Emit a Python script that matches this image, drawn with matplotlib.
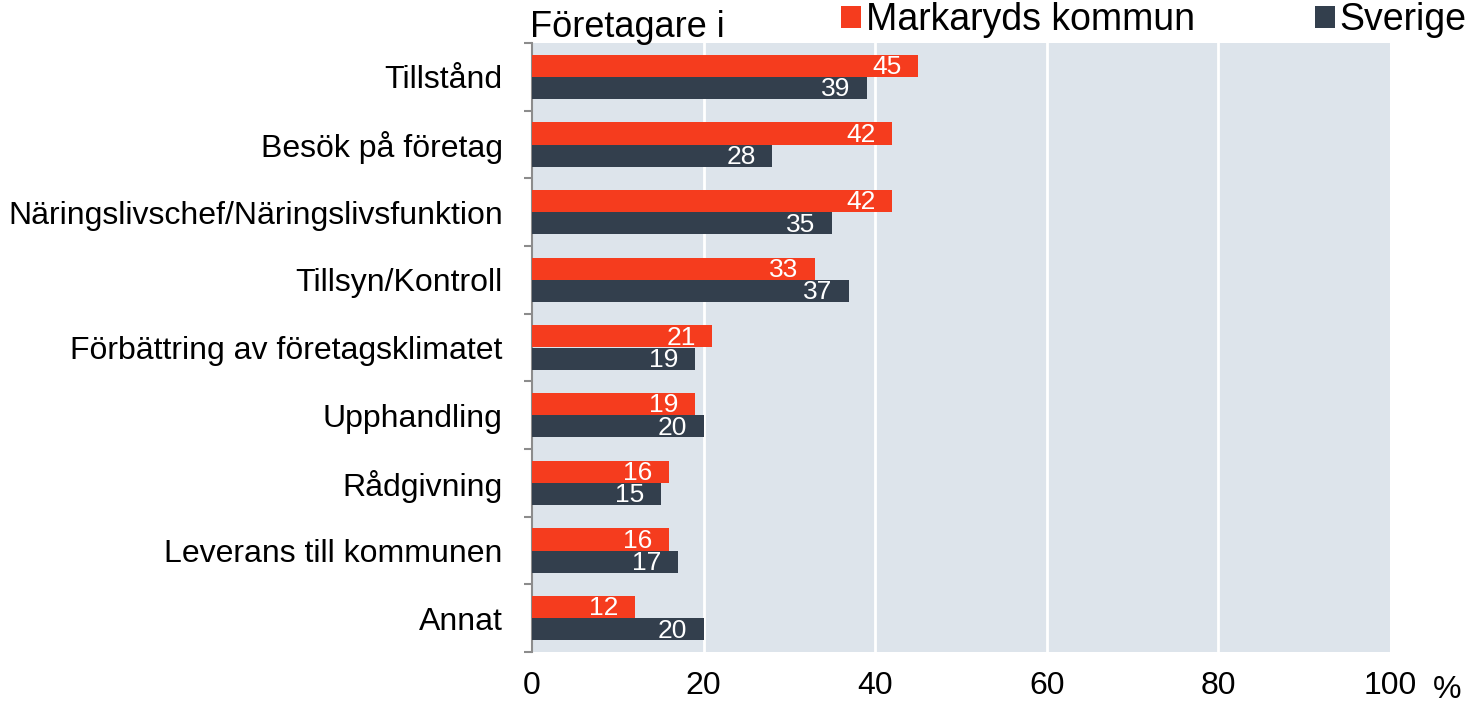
import matplotlib.pyplot as plt
import numpy as np

plt.rcParams['font.family'] = ['Liberation Sans', 'DejaVu Sans']

# data
kategorier = ['Tillstånd', 'Besök på företag', 'Näringslivschef/Näringslivsfunktion',
              'Tillsyn/Kontroll', 'Förbättring av företagsklimatet', 'Upphandling',
              'Rådgivning', 'Leverans till kommunen', 'Annat']
markaryd = [45, 42, 42, 33, 21, 19, 16, 16, 12]
sverige = [39, 28, 35, 37, 19, 20, 15, 17, 20]
xticks = [0, 20, 40, 60, 80, 100]

rod = '#f53c1e'
mork = '#333f4d'
bg = '#dde4eb'

fig = plt.figure(figsize=(14.71, 7.03), dpi=100)
ax = fig.add_axes([532/1471, 1 - 652/703, (1390-532)/1471, (652-43)/703])
ax.set_facecolor(bg)

y = np.arange(len(kategorier))
h = 0.33
b1 = ax.barh(y - h/2, markaryd, height=h, color=rod, label='Markaryds kommun', zorder=3)
b2 = ax.barh(y + h/2, sverige, height=h, color=mork, label='Sverige', zorder=3)

for bars in (b1, b2):
    for rect in bars:
        v = rect.get_width()
        ax.annotate(f'{v:g}', (v, rect.get_y() + rect.get_height()/2),
                    xytext=(-12, -1), textcoords='offset points',
                    ha='right', va='center', color='white', fontsize=19, zorder=4)

ax.set_xlim(0, 100)
ax.set_ylim(len(kategorier) - 0.5, -0.5)
ax.set_xticks(xticks)
ax.set_xticklabels([str(t) for t in xticks], fontsize=23)
ax.tick_params(axis='x', length=0, pad=14)
ax.set_yticks(y)
ax.set_yticklabels(kategorier, fontsize=23)
ax.tick_params(axis='y', which='major', length=0, pad=21)
ax.set_yticks(np.arange(-0.5, len(kategorier)), minor=True)
ax.tick_params(axis='y', which='minor', length=6, width=1.5, color='#8c8c8c')

for x in xticks[1:-1]:
    ax.axvline(x, color='white', lw=2, zorder=1)

for s in ['top', 'right', 'bottom']:
    ax.spines[s].set_visible(False)
ax.spines['left'].set_color('#8c8c8c')
ax.spines['left'].set_linewidth(1.5)

fig.text(530/1471, 1 - 37/703, 'Företagare i', fontsize=26, ha='left', va='baseline')
fig.text(1447/1471, 1 - 690/703, '%', fontsize=23, ha='center', va='center')

fig.legend(handles=[b1, b2], loc='upper right', bbox_to_anchor=(1468/1471, 1.0),
           ncol=2, frameon=False, fontsize=27, handlelength=0.53, handleheight=0.53,
           handletextpad=0.12, columnspacing=3.2, borderaxespad=0.0, borderpad=0.05)

fig.savefig('out.png', dpi=100)
